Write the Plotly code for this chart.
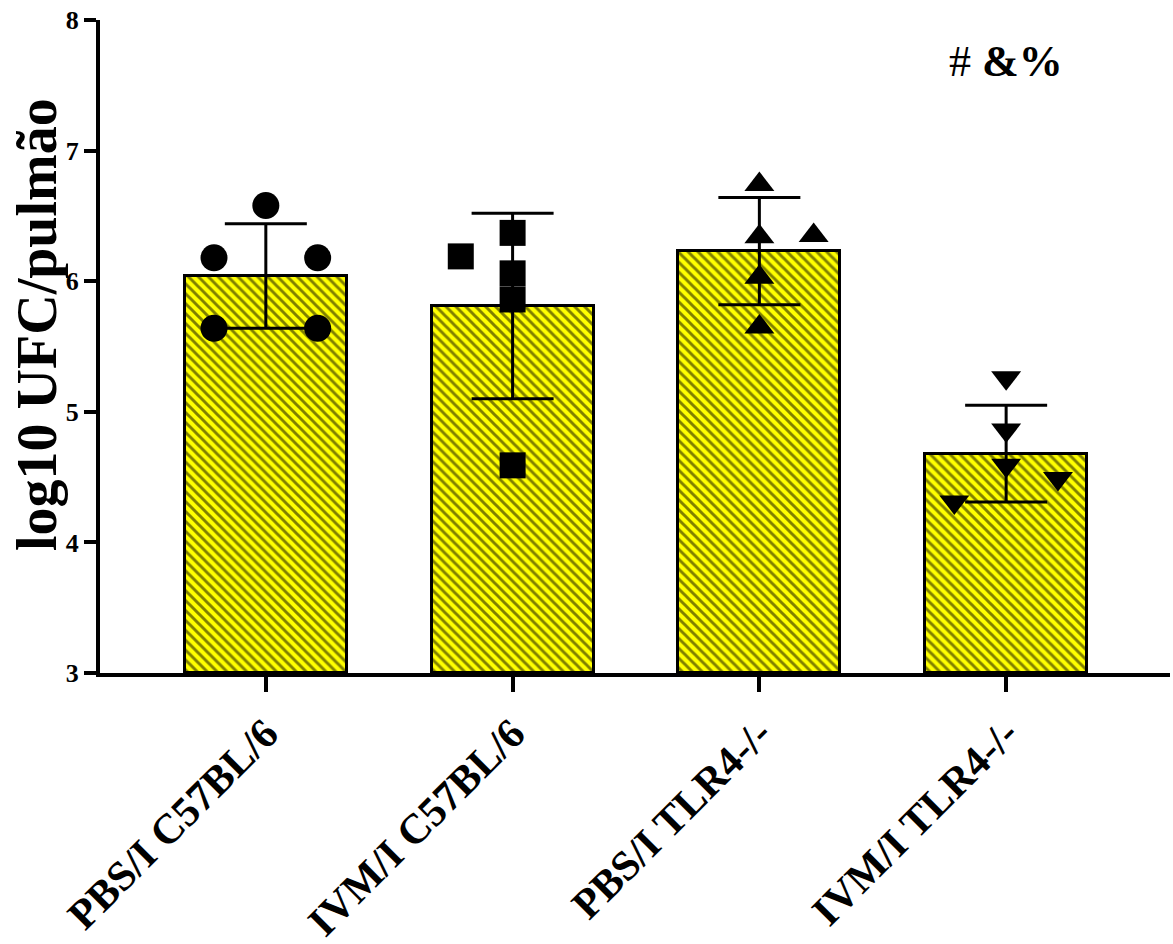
import plotly.graph_objects as go

categories = ["PBS/I C57BL/6", "IVM/I C57BL/6", "PBS/I TLR4-/-", "IVM/I TLR4-/-"]
means = [6.04, 5.81, 6.23, 4.68]
sds = [0.40, 0.71, 0.41, 0.37]
points = [
    [6.58, 6.18, 6.18, 5.64, 5.64],
    [6.37, 6.19, 6.06, 5.86, 4.59],
    [6.74, 6.34, 6.35, 6.03, 5.65],
    [5.26, 4.86, 4.59, 4.49, 4.31],
]
point_offsets = [
    [0.0, -0.21, 0.21, -0.21, 0.21],
    [0.0, -0.21, 0.0, 0.0, 0.0],
    [0.0, 0.0, 0.22, 0.0, 0.0],
    [0.0, 0.0, 0.0, 0.21, -0.21],
]
symbols = ["circle", "square", "triangle-up", "triangle-down"]
marker_sizes = [27, 26, 26, 26]
annotation_text = "# <b>&%</b>"
y_title = "log10 UFC/pulmão"

FONT = "Liberation Serif"

fig = go.Figure()
xs = list(range(len(categories)))
fig.add_trace(go.Bar(
    x=xs, y=[m - 3 for m in means], base=3, width=0.656,
    marker=dict(
        color="#FFFF00",
        line=dict(color="black", width=3),
        pattern=dict(shape="\\", fgcolor="black", bgcolor="#FFFF00",
                     size=7, solidity=0.42, fillmode="overlay"),
    ),
    error_y=dict(type="data", array=sds, color="black", thickness=3, width=41),
    showlegend=False,
))

for i, vals in enumerate(points):
    fig.add_trace(go.Scatter(
        x=[i + o for o in point_offsets[i]], y=vals, mode="markers",
        marker=dict(symbol=symbols[i], size=marker_sizes[i], color="black"),
        showlegend=False,
    ))

fig.add_annotation(x=3.0, y=7.68, xref="x", yref="y", text=annotation_text,
                   showarrow=False, font=dict(family=FONT, size=44, color="black"))

pw, ph = 1173 - 100 - 3, 944 - 20 - 271
fig.add_annotation(x=(37 - 100) / pw, y=(673 - 325) / ph, xref="paper", yref="paper",
                   text=y_title, textangle=-90, showarrow=False,
                   xanchor="center", yanchor="middle",
                   font=dict(family=FONT, size=56, color="black", weight=700))

fig.update_layout(
    width=1173, height=944,
    margin=dict(l=100, r=3, t=20, b=271),
    plot_bgcolor="white", paper_bgcolor="white",
    bargap=0,
)

fig.update_xaxes(
    range=[-0.672, 3.664], tickvals=xs, ticktext=categories, tickangle=-45,
    showline=True, linecolor="black", linewidth=4, ticks="outside",
    ticklen=15, tickwidth=4, tickcolor="black", showgrid=False, zeroline=False,
    tickfont=dict(family=FONT, size=42, color="black", weight=700),
    automargin=False,
)
fig.update_yaxes(
    range=[3, 8], tickvals=[3, 4, 5, 6, 7, 8],
    showline=True, linecolor="black", linewidth=4, ticks="outside",
    ticklen=12, tickwidth=4, tickcolor="black", showgrid=False, zeroline=False,
    tickfont=dict(family=FONT, size=26, color="black", weight=700),
    automargin=False,
)

fig.write_html("out.html")
